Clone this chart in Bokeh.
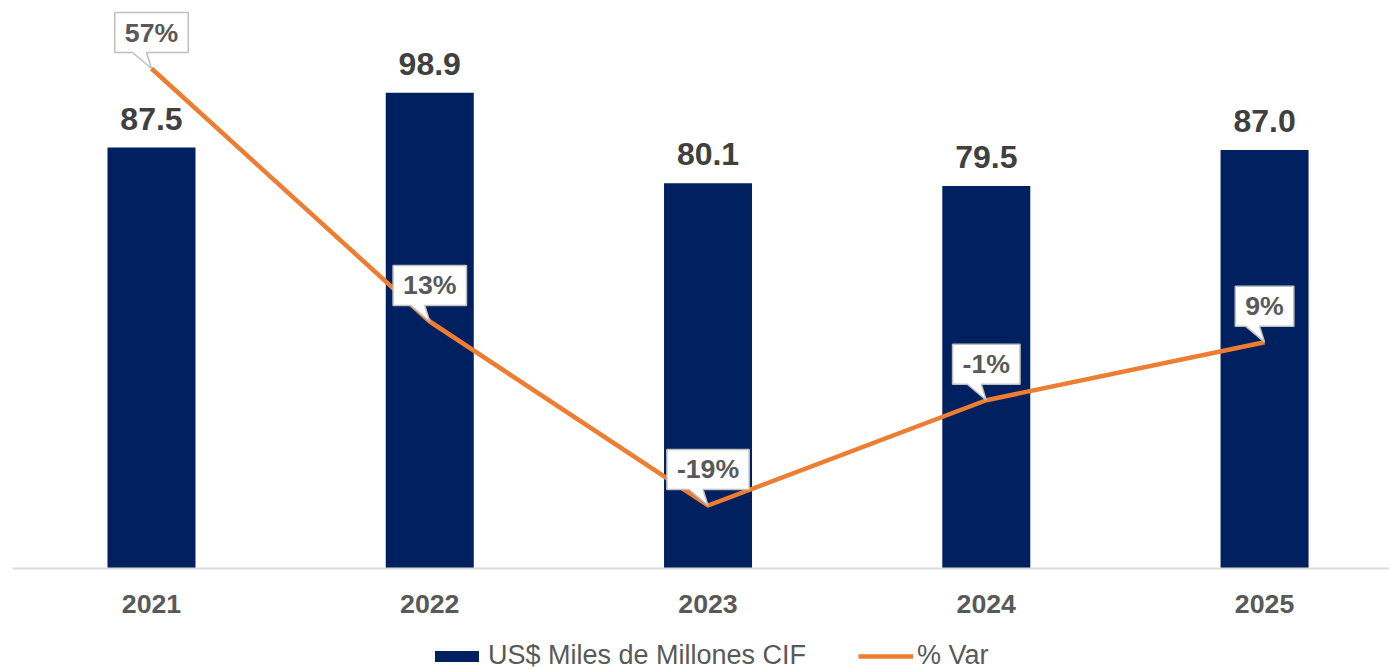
from bokeh.plotting import figure
from bokeh.layouts import column
from bokeh.models import Range1d, FixedTicker, Legend, LegendItem, ColumnDataSource
from bokeh.core.properties import value
from bokeh.embed import file_html
from bokeh.resources import INLINE

# ---- data ----
years = ["2021", "2022", "2023", "2024", "2025"]
valor = [87.5, 98.9, 80.1, 79.5, 87.0]
bar_labels = ["87.5", "98.9", "80.1", "79.5", "87.0"]
var_pct = [57.0, 13.0, -19.0, -0.7, 9.4]
var_labels = ["57%", "13%", "-19%", "-1%", "9%"]
series_names = ["US$ Miles de Millones CIF", "% Var"]

# ---- layout ----
W = 1389
H_MAIN, H_LEG = 620, 49
BL, BT = 12, 0
FH = 568
BB = H_MAIN - BT - FH
FW = W - BL
X0, X1 = -0.4995, 4.449
Y0, Y1 = 0, 118.06
P0, P1 = -29.96, 68.83

FONT = "Liberation Sans"
NAVY = "#002060"
ORANGE = "#ED7D31"
GRAY_TXT = "#595959"

xs = list(range(len(years)))

p = figure(width=W, height=H_MAIN, output_backend="svg", toolbar_location=None,
           x_range=Range1d(X0, X1), y_range=Range1d(Y0, Y1),
           y_axis_location=None, min_border_left=BL, min_border_right=0,
           min_border_top=BT, min_border_bottom=BB)
p.extra_y_ranges = {"pct": Range1d(P0, P1)}
p.outline_line_color = None
p.xgrid.visible = False
p.ygrid.visible = False
p.background_fill_color = "white"
p.border_fill_color = "white"

src = ColumnDataSource(dict(x=xs, valor=valor, bl=bar_labels, pct=var_pct, pl=var_labels))

bar_w = 88 * (X1 - X0) / FW
p.vbar(x="x", top="valor", width=bar_w, source=src, fill_color=NAVY, line_color=None)
p.line(x="x", y="pct", source=src, y_range_name="pct",
       line_color=ORANGE, line_width=4.5, line_join="round")

p.text(x="x", y="valor", text="bl", source=src, y_offset=-29,
       text_align="center", text_baseline="alphabetic",
       text_font=value(FONT), text_font_style="bold",
       text_font_size="32px", text_color="#404040")

# ---- callouts (box + tail) ----
px_x = FW / (X1 - X0)
px_y = FH / (P1 - P0)
cw = {"0": 556, "1": 556, "2": 556, "3": 556, "4": 556, "5": 556, "6": 556,
      "7": 556, "8": 556, "9": 556, "%": 889, "-": 333, ".": 278}
fs = 26.7
off = 36
bh = 40
cxs, cys = [], []
for xi, yi, lab in zip(xs, var_pct, var_labels):
    tw = sum(cw.get(c, 556) for c in lab) / 1000 * fs
    bw = tw + 20
    L, R = -bw / 2, bw / 2
    B, T = off - bh / 2, off + bh / 2
    pts = [(L, B), (-19, B), (0, 0), (-5, B), (R, B), (R, T), (L, T)]
    cxs.append([xi + a / px_x for a, b in pts])
    cys.append([yi + b / px_y for a, b in pts])
p.patches(cxs, cys, y_range_name="pct", fill_color="white",
          line_color="#BFBFBF", line_width=1.5)
p.text(x="x", y="pct", text="pl", source=src, y_range_name="pct",
       y_offset=-off, text_align="center", text_baseline="middle",
       text_font=value(FONT), text_font_style="bold",
       text_font_size="26.7px", text_color=GRAY_TXT)

# ---- axis ----
ax = p.xaxis[0]
ax.ticker = FixedTicker(ticks=xs)
ax.major_label_overrides = {i: y for i, y in enumerate(years)}
ax.major_tick_line_color = None
ax.minor_tick_line_color = None
ax.axis_line_color = "#D9D9D9"
ax.axis_line_width = 2
ax.major_label_text_font = FONT
ax.major_label_text_font_style = "bold"
ax.major_label_text_font_size = "26.7px"
ax.major_label_text_color = GRAY_TXT
ax.major_label_standoff = 20

# ---- legend (separate strip below) ----
lf = figure(width=W, height=H_LEG, output_backend="svg", toolbar_location=None,
            x_range=Range1d(0, 1), y_range=Range1d(0, 1),
            x_axis_location=None, y_axis_location=None,
            min_border_left=0, min_border_right=0, min_border_top=0, min_border_bottom=0)
lf.outline_line_color = None
lf.xgrid.visible = False
lf.ygrid.visible = False
# stand-ins placed outside the visible range so only the legend swatches show
r_bar = lf.vbar(x=[0.5], bottom=[-6], top=[-5], width=0.1, fill_color=NAVY, line_color=None)
r_line = lf.line(x=[0.4, 0.6], y=[-5, -5], line_color=ORANGE, line_width=4.5)
legend = Legend(items=[LegendItem(label=series_names[0], renderers=[r_bar]),
                       LegendItem(label=series_names[1], renderers=[r_line])],
                orientation="horizontal", location=(417, -2),
                padding=0, margin=0, spacing=52, glyph_width=55, glyph_height=14,
                label_standoff=4, border_line_color=None, background_fill_alpha=0,
                label_text_font=FONT, label_text_font_size="27px",
                label_text_color=GRAY_TXT)
lf.add_layout(legend)

layout = column(p, lf, spacing=0)
open("out.html", "w").write(file_html(layout, INLINE))
